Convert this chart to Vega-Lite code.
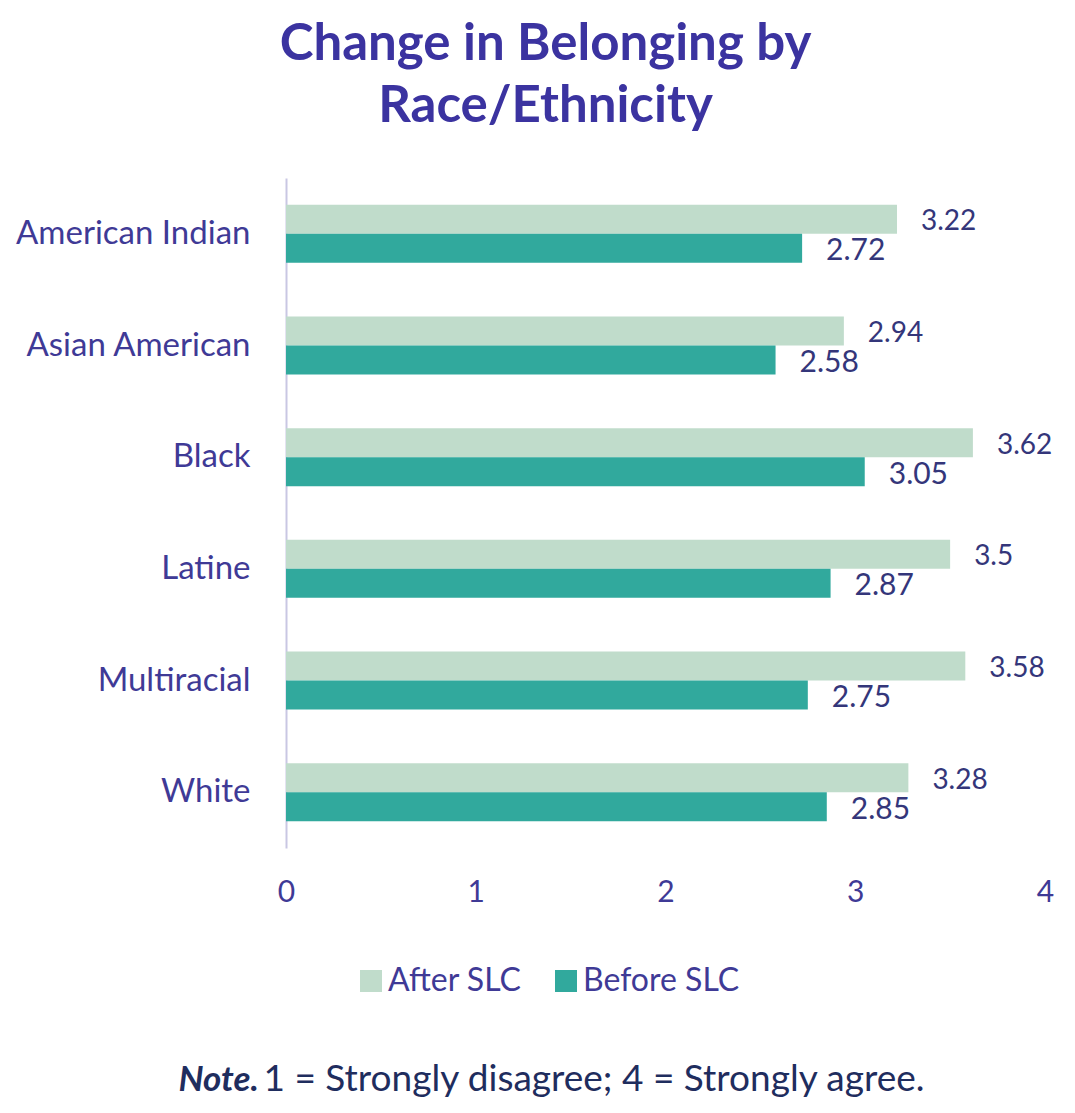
{
  "$schema": "https://vega.github.io/schema/vega-lite/v6.json",
  "width": 759,
  "height": 670,
  "autosize": {"type": "none"},
  "padding": {"left": 286, "top": 178, "right": 30, "bottom": 265},
  "background": "white",
  "config": {"view": {"stroke": null}, "font": "Lato"},
  "title": {
    "text": ["Change in Belonging by", "Race/Ethnicity"],
    "font": "Lato",
    "fontSize": 51,
    "fontWeight": "bold",
    "color": "#3b33a0",
    "anchor": "middle",
    "dx": -120,
    "lineHeight": 62,
    "offset": 45
  },
  "data": {
    "values": [
      {"group": "American Indian", "series": "After SLC", "value": 3.22},
      {"group": "American Indian", "series": "Before SLC", "value": 2.72},
      {"group": "Asian American", "series": "After SLC", "value": 2.94},
      {"group": "Asian American", "series": "Before SLC", "value": 2.58},
      {"group": "Black", "series": "After SLC", "value": 3.62},
      {"group": "Black", "series": "Before SLC", "value": 3.05},
      {"group": "Latine", "series": "After SLC", "value": 3.5},
      {"group": "Latine", "series": "Before SLC", "value": 2.87},
      {"group": "Multiracial", "series": "After SLC", "value": 3.58},
      {"group": "Multiracial", "series": "Before SLC", "value": 2.75},
      {"group": "White", "series": "After SLC", "value": 3.28},
      {"group": "White", "series": "Before SLC", "value": 2.85}
    ]
  },
  "encoding": {
    "y": {
      "field": "group",
      "type": "nominal",
      "sort": ["American Indian", "Asian American", "Black", "Latine", "Multiracial", "White"],
      "scale": {"paddingInner": 0.48, "paddingOuter": 0.24},
      "axis": {
        "title": "Note.",
        "titleAngle": 0,
        "titleX": -108,
        "titleY": 912,
        "titleAlign": "left",
        "titleBaseline": "alphabetic",
        "titleFont": "Lato",
        "titleFontSize": 35,
        "titleFontStyle": "italic",
        "titleFontWeight": "bold",
        "titleColor": "#1f2d5e",
        "domain": true,
        "domainColor": "#c9c7e3",
        "domainWidth": 2,
        "ticks": false,
        "grid": false,
        "labelFont": "Lato",
        "labelFontSize": 33,
        "labelLimit": 400,
        "labelColor": "#3f3a96",
        "labelPadding": 36
      }
    },
    "yOffset": {
      "field": "series",
      "type": "nominal",
      "sort": ["After SLC", "Before SLC"]
    },
    "x": {
      "field": "value",
      "type": "quantitative",
      "scale": {"domain": [0, 4], "nice": false},
      "axis": {
        "values": [0, 1, 2, 3, 4],
        "domain": false,
        "ticks": false,
        "grid": false,
        "labelFlush": false,
        "labelFont": "Lato",
        "labelFontSize": 30,
        "labelColor": "#3f3a96",
        "labelPadding": 29,
        "title": "1 = Strongly disagree; 4 = Strongly agree.",
        "titleX": -23,
        "titleY": 242,
        "titleAlign": "left",
        "titleBaseline": "alphabetic",
        "titleFont": "Lato",
        "titleFontSize": 37,
        "titleFontWeight": "normal",
        "titleColor": "#1f2d5e"
      }
    }
  },
  "layer": [
    {
      "mark": {"type": "bar"},
      "encoding": {
        "color": {
          "field": "series",
          "type": "nominal",
          "scale": {"domain": ["After SLC", "Before SLC"], "range": ["#c0dccb", "#31a99d"]},
          "legend": {
            "title": null,
            "orient": "none",
            "direction": "horizontal",
            "legendX": 69,
            "legendY": 787,
            "symbolType": "square",
            "symbolSize": 484,
            "symbolStrokeWidth": 0,
            "labelFont": "Lato",
            "labelFontSize": 32,
            "labelColor": "#3f3a96",
            "labelOffset": 1,
            "columnPadding": 28
          }
        }
      }
    },
    {
      "mark": {"type": "text", "align": "left", "baseline": "middle", "dx": 24, "dy": 3, "color": "#34367a", "font": "Lato"},
      "encoding": {
        "text": {"field": "value", "type": "quantitative"},
        "size": {
          "condition": {"test": "datum.series === 'Before SLC'", "value": 30},
          "value": 28
        }
      }
    }
  ]
}
